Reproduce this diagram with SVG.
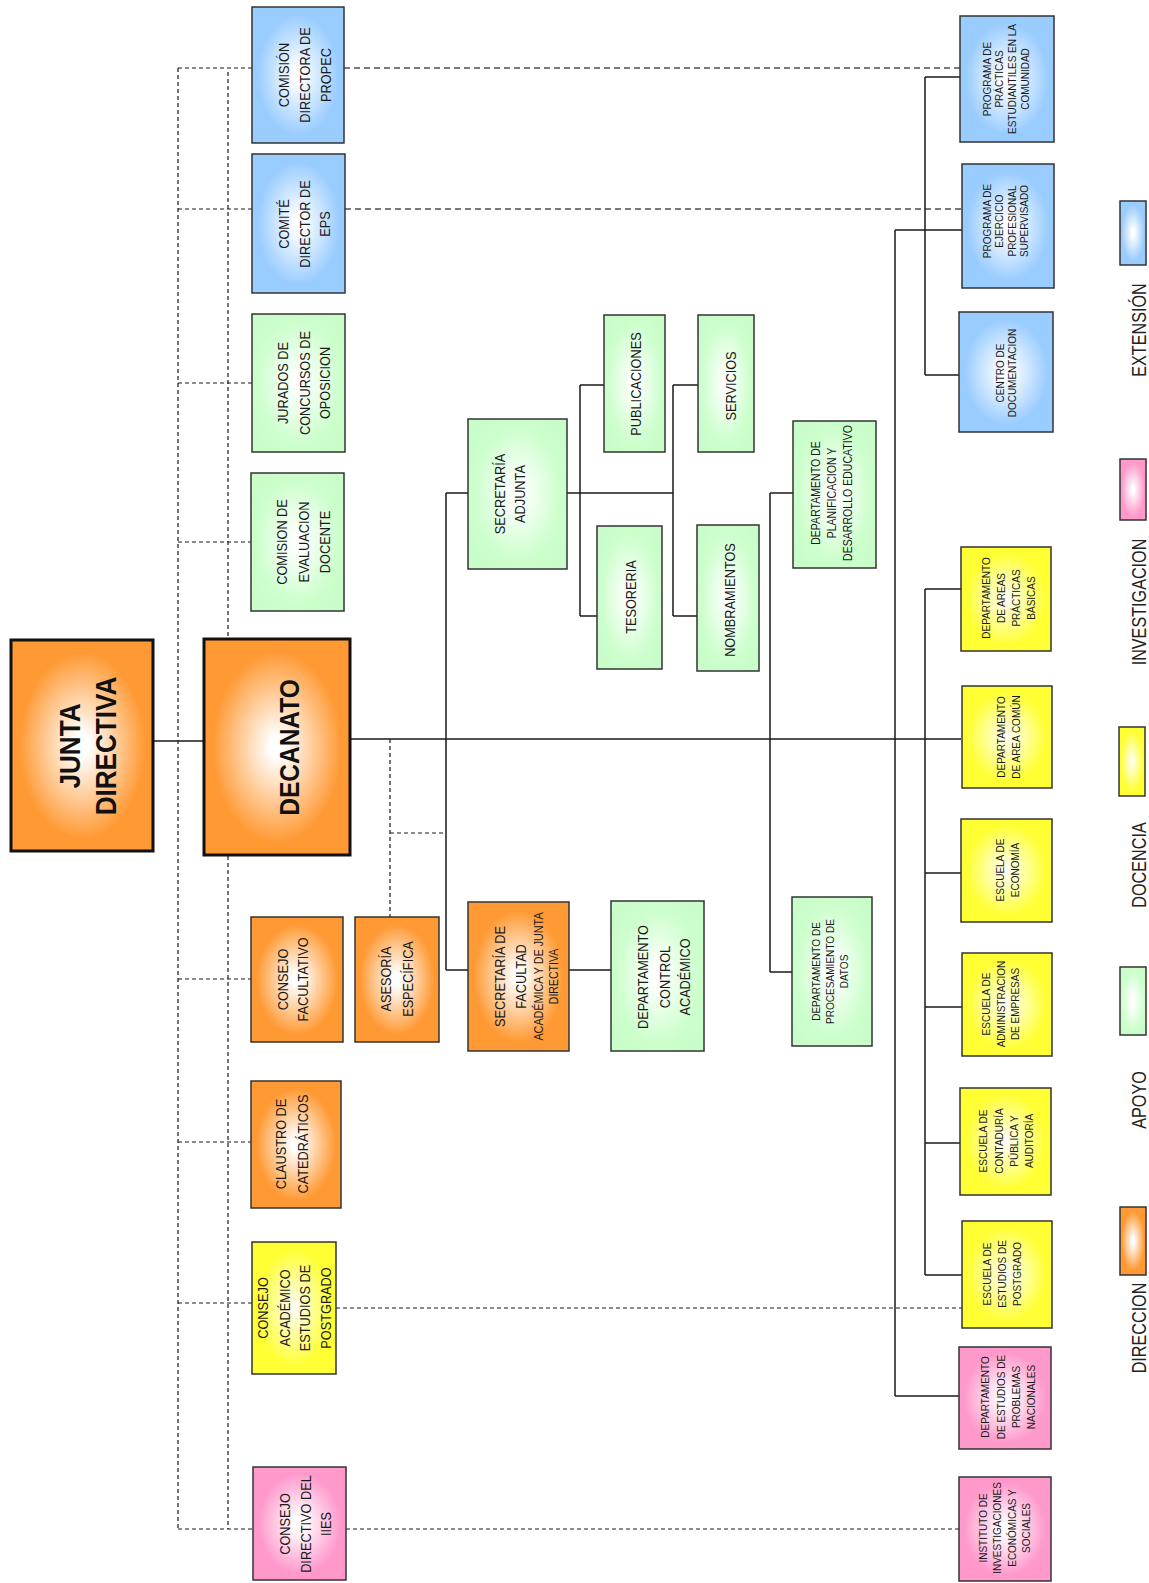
<svg xmlns="http://www.w3.org/2000/svg" width="1149" height="1583" viewBox="0 0 1149 1583">
<style>
.box{stroke:#333;stroke-width:1.5}
.big{stroke:#111;stroke-width:3}
.t{font-family:"Liberation Sans",Arial,sans-serif;font-size:15px;fill:#1a1a1a;text-anchor:middle}
.sm{font-size:11.5px}
.md{font-size:12px}
.b{font-weight:bold;fill:#111}
.lg{font-size:19.5px;fill:#222}
.conn{stroke:#1a1a1a;stroke-width:1.5;fill:none}
.dash{stroke:#1a1a1a;stroke-width:1.2;stroke-dasharray:4 3;fill:none}
.gdash{stroke:#7a7a7a;stroke-width:2;stroke-dasharray:6 4;fill:none}
</style>
<defs>
<radialGradient id="gO" cx=".5" cy=".5" r=".6"><stop offset="0" stop-color="#fff"/><stop offset=".08" stop-color="#fff"/><stop offset=".74" stop-color="#FF9933"/><stop offset="1" stop-color="#FF9933"/></radialGradient>
<radialGradient id="gB" cx=".5" cy=".5" r=".6"><stop offset="0" stop-color="#fff"/><stop offset=".08" stop-color="#fff"/><stop offset=".74" stop-color="#99CCFF"/><stop offset="1" stop-color="#99CCFF"/></radialGradient>
<radialGradient id="gG" cx=".5" cy=".5" r=".6"><stop offset="0" stop-color="#fff"/><stop offset=".08" stop-color="#fff"/><stop offset=".74" stop-color="#CCFFCC"/><stop offset="1" stop-color="#C8FCC8"/></radialGradient>
<radialGradient id="gY" cx=".5" cy=".5" r=".6"><stop offset="0" stop-color="#fff"/><stop offset=".08" stop-color="#FFFFE6"/><stop offset=".74" stop-color="#FFFF33"/><stop offset="1" stop-color="#FFFF33"/></radialGradient>
<radialGradient id="gP" cx=".5" cy=".5" r=".6"><stop offset="0" stop-color="#fff"/><stop offset=".08" stop-color="#fff"/><stop offset=".74" stop-color="#FF99CC"/><stop offset="1" stop-color="#FF99CC"/></radialGradient>
</defs>
<rect width="1149" height="1583" fill="#fff"/>

<g id="connectors">
<path class="dash" d="M178 68V1529M228 72V1529M178 68H252M178 209H252M178 383H252M178 542H251M178 979H251M178 1142H251M178 1303H252M178 1529H253M390 739V917M390 833H446M336 1308H962M346 1529H959"/>
<path class="gdash" d="M344 68H960M345 209H962"/>
<path class="conn" d="M153 741H204M350 739H961M446 493V970M446 493H468M446 970H468M567 493H673M580 385V616M580 385H604M580 616H597M673 385V616M673 385H698M673 616H697M569 970H611M770 493V972M770 493H793M770 972H792M895 230V1396M895 230H962M895 1396H959M925 77V375M925 77H960M925 375H959M925 589V1275M925 589H961M925 873H961M925 1007H962M925 1143H960M925 1275H962"/>
</g>

<g id="n-propec"><rect class="box" x="252" y="7" width="92" height="136" fill="url(#gB)"/>
<text class="t" transform="translate(0,75) rotate(-90) scale(.85,1)"><tspan x="0" y="289">COMISIÓN</tspan><tspan x="0" y="310">DIRECTORA DE</tspan><tspan x="0" y="331">PROPEC</tspan></text></g>
<g id="n-eps"><rect class="box" x="252" y="154" width="93" height="139" fill="url(#gB)"/>
<text class="t" transform="translate(0,224) rotate(-90) scale(.85,1)"><tspan x="0" y="289">COMITÉ</tspan><tspan x="0" y="310">DIRECTOR DE</tspan><tspan x="0" y="330">EPS</tspan></text></g>
<g id="n-jurados"><rect class="box" x="252" y="314" width="93" height="138" fill="url(#gG)"/>
<text class="t" transform="translate(0,383) rotate(-90) scale(.85,1)"><tspan x="0" y="288">JURADOS DE</tspan><tspan x="0" y="310">CONCURSOS DE</tspan><tspan x="0" y="330.5">OPOSICION</tspan></text></g>
<g id="n-comision"><rect class="box" x="251" y="473" width="93" height="138" fill="url(#gG)"/>
<text class="t" transform="translate(0,542) rotate(-90) scale(.85,1)"><tspan x="0" y="287">COMISION DE</tspan><tspan x="0" y="309">EVALUACION</tspan><tspan x="0" y="330">DOCENTE</tspan></text></g>
<g id="n-junta"><rect class="big" x="11" y="640" width="142" height="211" fill="url(#gO)"/>
<text class="t b" style="font-size:29px" transform="translate(0,746) rotate(-90) scale(.9,1)"><tspan x="0" y="80">JUNTA</tspan><tspan x="0" y="116.5">DIRECTIVA</tspan></text></g>
<g id="n-decanato"><rect class="big" x="204" y="639" width="146" height="216" fill="url(#gO)"/>
<text class="t b" style="font-size:28px" transform="translate(0,747.5) rotate(-90) scale(.875,1)"><tspan x="0" y="299">DECANATO</tspan></text></g>
<g id="n-consejo-fac"><rect class="box" x="251" y="917" width="92" height="125" fill="url(#gO)"/>
<text class="t" transform="translate(0,979.5) rotate(-90) scale(.85,1)"><tspan x="0" y="288">CONSEJO</tspan><tspan x="0" y="308">FACULTATIVO</tspan></text></g>
<g id="n-asesoria"><rect class="box" x="355" y="917" width="84" height="125" fill="url(#gO)"/>
<text class="t" transform="translate(0,979) rotate(-90) scale(.85,1)"><tspan x="0" y="391.5">ASESORÍA</tspan><tspan x="0" y="413">ESPECÍFICA</tspan></text></g>
<g id="n-claustro"><rect class="box" x="251" y="1081" width="90" height="127" fill="url(#gO)"/>
<text class="t" transform="translate(0,1144) rotate(-90) scale(.85,1)"><tspan x="0" y="286.5">CLAUSTRO DE</tspan><tspan x="0" y="308">CATEDRÁTICOS</tspan></text></g>
<g id="n-consejo-acad"><rect class="box" x="252" y="1242" width="84" height="132" fill="url(#gY)"/>
<text class="t" transform="translate(0,1308) rotate(-90) scale(.85,1)"><tspan x="0" y="268">CONSEJO</tspan><tspan x="0" y="290">ACADÉMICO</tspan><tspan x="0" y="310">ESTUDIOS DE</tspan><tspan x="0" y="331.5">POSTGRADO</tspan></text></g>
<g id="n-consejo-iies"><rect class="box" x="253" y="1467" width="93" height="113" fill="url(#gP)"/>
<text class="t" transform="translate(0,1524) rotate(-90) scale(.85,1)"><tspan x="0" y="290">CONSEJO</tspan><tspan x="0" y="311.5">DIRECTIVO DEL</tspan><tspan x="0" y="331.5">IIES</tspan></text></g>

<g id="n-sec-adjunta"><rect class="box" x="468" y="419" width="99" height="150" fill="url(#gG)"/>
<text class="t" transform="translate(0,494) rotate(-90) scale(.85,1)"><tspan x="0" y="505">SECRETARÍA</tspan><tspan x="0" y="525">ADJUNTA</tspan></text></g>
<g id="n-sec-facultad"><rect class="box" x="468" y="902" width="101" height="149" fill="url(#gO)"/>
<text class="t" transform="translate(0,976.5) rotate(-90) scale(.85,1)"><tspan x="0" y="505">SECRETARÍA DE</tspan><tspan x="0" y="526">FACULTAD</tspan><tspan x="0" y="543" style="font-size:12.7px">ACADÉMICA Y DE JUNTA</tspan><tspan x="0" y="558" style="font-size:12.4px">DIRECTIVA</tspan></text></g>
<g id="n-control"><rect class="box" x="611" y="901" width="93" height="150" fill="url(#gG)"/>
<text class="t" transform="translate(0,977) rotate(-90) scale(.85,1)"><tspan x="0" y="648">DEPARTAMENTO</tspan><tspan x="0" y="670">CONTROL</tspan><tspan x="0" y="690">ACADÉMICO</tspan></text></g>
<g id="n-publicaciones"><rect class="box" x="604" y="315" width="61" height="137" fill="url(#gG)"/>
<text class="t" transform="translate(0,384) rotate(-90) scale(.85,1)"><tspan x="0" y="641">PUBLICACIONES</tspan></text></g>
<g id="n-servicios"><rect class="box" x="698" y="315" width="56" height="137" fill="url(#gG)"/>
<text class="t" transform="translate(0,386) rotate(-90) scale(.85,1)"><tspan x="0" y="736.5">SERVICIOS</tspan></text></g>
<g id="n-tesoreria"><rect class="box" x="597" y="526" width="65" height="143" fill="url(#gG)"/>
<text class="t" transform="translate(0,597) rotate(-90) scale(.85,1)"><tspan x="0" y="636.5">TESORERIA</tspan></text></g>
<g id="n-nombramientos"><rect class="box" x="697" y="525" width="62" height="146" fill="url(#gG)"/>
<text class="t" transform="translate(0,600) rotate(-90) scale(.85,1)"><tspan x="0" y="735">NOMBRAMIENTOS</tspan></text></g>
<g id="n-planificacion"><rect class="box" x="793" y="421" width="83" height="147" fill="url(#gG)"/>
<text class="t md" transform="translate(0,493) rotate(-90) scale(.88,1)"><tspan x="0" y="820">DEPARTAMENTO DE</tspan><tspan x="0" y="836.5">PLANIFICACION Y</tspan><tspan x="0" y="852">DESARROLLO EDUCATIVO</tspan></text></g>
<g id="n-procesamiento"><rect class="box" x="792" y="897" width="80" height="149" fill="url(#gG)"/>
<text class="t" style="font-size:11.5px" transform="translate(0,971.5) rotate(-90) scale(.875,1)"><tspan x="0" y="820">DEPARTAMENTO DE</tspan><tspan x="0" y="834">PROCESAMIENTO DE</tspan><tspan x="0" y="848">DATOS</tspan></text></g>

<g id="n-prog-practicas"><rect class="box" x="960" y="16" width="94" height="126" fill="url(#gB)"/>
<text class="t sm" transform="translate(0,79) rotate(-90) scale(.87,1)"><tspan x="0" y="991">PROGRAMA DE</tspan><tspan x="0" y="1003">PRÁCTICAS</tspan><tspan x="0" y="1016.5">ESTUDIANTILES EN LA</tspan><tspan x="0" y="1029">COMUNIDAD</tspan></text></g>
<g id="n-prog-eps"><rect class="box" x="962" y="164" width="92" height="124" fill="url(#gB)"/>
<text class="t sm" transform="translate(0,221) rotate(-90) scale(.87,1)"><tspan x="0" y="991">PROGRAMA DE</tspan><tspan x="0" y="1003.5">EJERCICIO</tspan><tspan x="0" y="1016">PROFESIONAL</tspan><tspan x="0" y="1028.5">SUPERVISADO</tspan></text></g>
<g id="n-centro-doc"><rect class="box" x="959" y="312" width="94" height="120" fill="url(#gB)"/>
<text class="t sm" transform="translate(0,373) rotate(-90) scale(.87,1)"><tspan x="0" y="1004">CENTRO DE</tspan><tspan x="0" y="1016">DOCUMENTACION</tspan></text></g>
<g id="n-areas-practicas"><rect class="box" x="961" y="547" width="90" height="104" fill="url(#gY)"/>
<text class="t sm" transform="translate(0,598) rotate(-90) scale(.87,1)"><tspan x="0" y="990">DEPARTAMENTO</tspan><tspan x="0" y="1005">DE AREAS</tspan><tspan x="0" y="1020">PRÁCTICAS</tspan><tspan x="0" y="1035">BÁSICAS</tspan></text></g>
<g id="n-area-comun"><rect class="box" x="962" y="686" width="90" height="102" fill="url(#gY)"/>
<text class="t sm" transform="translate(0,737) rotate(-90) scale(.87,1)"><tspan x="0" y="1005">DEPARTAMENTO</tspan><tspan x="0" y="1020">DE AREA COMÚN</tspan></text></g>
<g id="n-economia"><rect class="box" x="961" y="819" width="91" height="103" fill="url(#gY)"/>
<text class="t sm" transform="translate(0,870) rotate(-90) scale(.87,1)"><tspan x="0" y="1004">ESCUELA DE</tspan><tspan x="0" y="1019">ECONOMÍA</tspan></text></g>
<g id="n-administracion"><rect class="box" x="962" y="953" width="90" height="103" fill="url(#gY)"/>
<text class="t sm" transform="translate(0,1004) rotate(-90) scale(.87,1)"><tspan x="0" y="990">ESCUELA DE</tspan><tspan x="0" y="1005">ADMINISTRACION</tspan><tspan x="0" y="1019.5">DE EMPRESAS</tspan></text></g>
<g id="n-contaduria"><rect class="box" x="960" y="1088" width="91" height="107" fill="url(#gY)"/>
<text class="t sm" transform="translate(0,1141) rotate(-90) scale(.87,1)"><tspan x="0" y="987">ESCUELA DE</tspan><tspan x="0" y="1003">CONTADURÍA</tspan><tspan x="0" y="1018">PÚBLICA Y</tspan><tspan x="0" y="1033">AUDITORÍA</tspan></text></g>
<g id="n-postgrado"><rect class="box" x="962" y="1221" width="90" height="107" fill="url(#gY)"/>
<text class="t sm" transform="translate(0,1274) rotate(-90) scale(.87,1)"><tspan x="0" y="991">ESCUELA DE</tspan><tspan x="0" y="1006">ESTUDIOS DE</tspan><tspan x="0" y="1021">POSTGRADO</tspan></text></g>
<g id="n-problemas"><rect class="box" x="959" y="1347" width="92" height="102" fill="url(#gP)"/>
<text class="t sm" transform="translate(0,1397) rotate(-90) scale(.87,1)"><tspan x="0" y="989">DEPARTAMENTO</tspan><tspan x="0" y="1005">DE ESTUDIOS DE</tspan><tspan x="0" y="1020">PROBLEMAS</tspan><tspan x="0" y="1035">NACIONALES</tspan></text></g>
<g id="n-instituto"><rect class="box" x="959" y="1477" width="92" height="104" fill="url(#gP)"/>
<text class="t sm" transform="translate(0,1528) rotate(-90) scale(.87,1)"><tspan x="0" y="987">INSTITUTO DE</tspan><tspan x="0" y="1001.5">INVESTIGACIONES</tspan><tspan x="0" y="1016.5">ECONÓMICAS Y</tspan><tspan x="0" y="1030">SOCIALES</tspan></text></g>

<g id="legend">
<rect class="box" x="1120" y="201" width="26" height="64" fill="url(#gB)"/>
<text class="t lg" transform="translate(0,330) rotate(-90) scale(.83,1)"><tspan x="0" y="1146">EXTENSIÓN</tspan></text>
<rect class="box" x="1120" y="459" width="26" height="61" fill="url(#gP)"/>
<text class="t lg" transform="translate(0,602) rotate(-90) scale(.83,1)"><tspan x="0" y="1146">INVESTIGACION</tspan></text>
<rect class="box" x="1119" y="727" width="26" height="69" fill="url(#gY)"/>
<text class="t lg" transform="translate(0,865) rotate(-90) scale(.83,1)"><tspan x="0" y="1146">DOCENCIA</tspan></text>
<rect class="box" x="1120" y="967" width="26" height="68" fill="url(#gG)"/>
<text class="t lg" transform="translate(0,1100) rotate(-90) scale(.83,1)"><tspan x="0" y="1146">APOYO</tspan></text>
<rect class="box" x="1120" y="1207" width="26" height="68" fill="url(#gO)"/>
<text class="t lg" transform="translate(0,1328) rotate(-90) scale(.83,1)"><tspan x="0" y="1146">DIRECCION</tspan></text>
</g>
</svg>
